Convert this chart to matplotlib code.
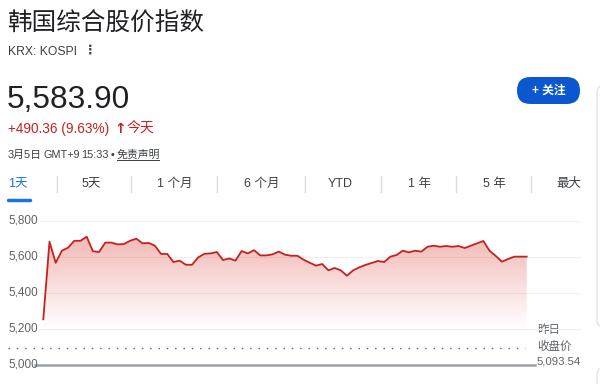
import numpy as np
import pandas as pd
import matplotlib
matplotlib.use("Agg")
import matplotlib.pyplot as plt
from matplotlib.patches import FancyBboxPatch
from matplotlib.colors import LinearSegmentedColormap

plt.rcParams['font.family'] = ['Liberation Sans', 'Noto Sans CJK SC', 'DejaVu Sans']

# KOSPI intraday, 5 minute steps from 09:00 to 15:30
times = pd.date_range("2026-03-05 09:00", "2026-03-05 15:30", freq="5min")
prices = [5254, 5685, 5568, 5635, 5652, 5690, 5690, 5713, 5632, 5628,
          5680, 5680, 5670, 5672, 5690, 5702, 5676, 5678, 5663, 5617,
          5617, 5572, 5580, 5557, 5557, 5598, 5618, 5620, 5628, 5583,
          5592, 5580, 5633, 5620, 5638, 5609, 5609, 5615, 5630, 5613,
          5607, 5607, 5585, 5568, 5552, 5561, 5526, 5539, 5526, 5496,
          5526, 5543, 5556, 5567, 5578, 5572, 5602, 5611, 5635, 5626,
          5635, 5630, 5657, 5663, 5657, 5661, 5657, 5661, 5650, 5663,
          5676, 5689, 5635, 5606, 5574, 5589, 5602, 5602, 5602]
prev_close = 5093.54
last_price = 5583.90
change = 490.36
change_pct = 9.63
y_ticks = [5000, 5200, 5400, 5600, 5800]
tabs = ["1天", "5天", "1 个月", "6 个月", "YTD", "1 年", "5 年", "最大"]
tab_x = [8, 82, 157, 244, 328, 408, 483, 556]
tab_sep = [57, 131, 217, 305, 381, 456, 531]
stamp = ["3月5日", "GMT+9", "15:33", "•", "免责声明"]
stamp_x = [8, 44, 81, 111, 117]

minutes = (times - times[0]).total_seconds().values / 60

red = '#c5221f'
gray = '#5f6368'

fig = plt.figure(figsize=(6, 3.84), dpi=100)

# background canvas in pixel units for the page header
bg = fig.add_axes([0, 0, 1, 1])
bg.set_xlim(0, 600)
bg.set_ylim(384, 0)
bg.axis('off')

bg.text(7, 24, "韩国综合股价指数", fontsize=17.7, va='center', color='#202124',
        family=['Noto Sans CJK SC'])
bg.text(8, 55, "KRX: KOSPI", fontsize=8.7, va='baseline', color='#3c4043')
bg.text(90, 50, "⋮", fontsize=9, va='center', ha='center', color='#3c4043',
        family=['DejaVu Sans'], fontweight='bold')
bg.text(7, 108, f"{last_price:,.2f}", fontsize=22.8, va='baseline', color='#202124')
bg.text(8, 133, f"+{change:.2f} ({change_pct:.2f}%)", fontsize=9.8, va='baseline', color=red)
bg.text(120, 133, "↑", fontsize=10, va='baseline', ha='center', color=red,
        family=['DejaVu Sans'], fontweight='bold')
bg.text(127, 133, "今天", fontsize=10, va='baseline', color=red)
for s, x in zip(stamp, stamp_x):
    bg.text(x, 158, s, fontsize=7.8, va='baseline', color='#3c4043')
bg.plot([117, 159], [160, 160], color='#3c4043', lw=0.7)

# follow button
bg.add_patch(FancyBboxPatch((517, 77), 63, 27, boxstyle="round,pad=0,rounding_size=13.5",
                            facecolor='#0b57d0', edgecolor='none'))
bg.text(548.5, 91, "+ 关注", fontsize=8.5, va='center', ha='center', color='white',
        fontweight='bold')

# card edges at the right border
bg.add_patch(FancyBboxPatch((597, 85), 40, 245, boxstyle="round,pad=0,rounding_size=8",
                            facecolor='none', edgecolor='#e3e3e3', lw=1))
bg.add_patch(FancyBboxPatch((597, 367), 40, 60, boxstyle="round,pad=0,rounding_size=8",
                            facecolor='none', edgecolor='#e3e3e3', lw=1))

# range tabs
for i, (lab, x) in enumerate(zip(tabs, tab_x)):
    bg.text(x, 184, lab, fontsize=9, va='center', ha='left',
            color='#1a73e8' if i == 0 else '#3c4043')
for x in tab_sep:
    bg.plot([x, x], [176, 192], color='#dadce0', lw=1)
bg.plot([8, 30], [199.5, 199.5], color='#1a73e8', lw=2.5, solid_capstyle='round')

# price chart, same pixel scale horizontally
ax = fig.add_axes([0, 0, 1, 179 / 384])
ax.axis('off')
ppm = (526.7 - 43.3) / 390
xlim = (-43.3 / ppm, (600 - 43.3) / ppm)
ylim = (5000 - 19 / 0.18, 5000 + 160 / 0.18)

for v in y_ticks[1:]:
    ax.axhline(v, xmin=40 / 600, xmax=580 / 600, color='#efefef', lw=0.8, zorder=0)
ax.axhline(y_ticks[0], xmin=35 / 600, xmax=535 / 600, color='#9aa0a6', lw=1.8, zorder=2)
ax.axhline(prev_close, xmin=8 / 600, xmax=525 / 600, color=gray, lw=1,
           linestyle=(0, (1, 5)), zorder=2)

for v in y_ticks:
    ax.text(8 / 600, v, f"{v:,}", transform=ax.get_yaxis_transform(), va='center',
            ha='left', fontsize=8.5, color=gray)

fade = LinearSegmentedColormap.from_list("fade", [(0.85, 0.19, 0.15, 0.0),
                                                  (0.85, 0.19, 0.15, 0.34)])
grad = np.linspace(0, 1, 256).reshape(-1, 1)
img = ax.imshow(grad, cmap=fade, origin='lower', aspect='auto', zorder=1,
                extent=[minutes[0], minutes[-1], 5200, max(prices)])
poly = ax.fill_between(minutes, prices, 5200, color='none')
img.set_clip_path(poly.get_paths()[0], transform=ax.transData)
ax.plot(minutes, prices, color=red, lw=1.3, zorder=3)

ax.set_xlim(*xlim)
ax.set_ylim(*ylim)

bg.text(537, 330, "昨日", fontsize=8.3, va='center', color=gray)
bg.text(537, 347, "收盘价", fontsize=8.3, va='center', color=gray)
bg.text(537, 361, f"{prev_close:,.2f}", fontsize=8.2, va='center', color=gray)

fig.savefig("out.png", dpi=100)
